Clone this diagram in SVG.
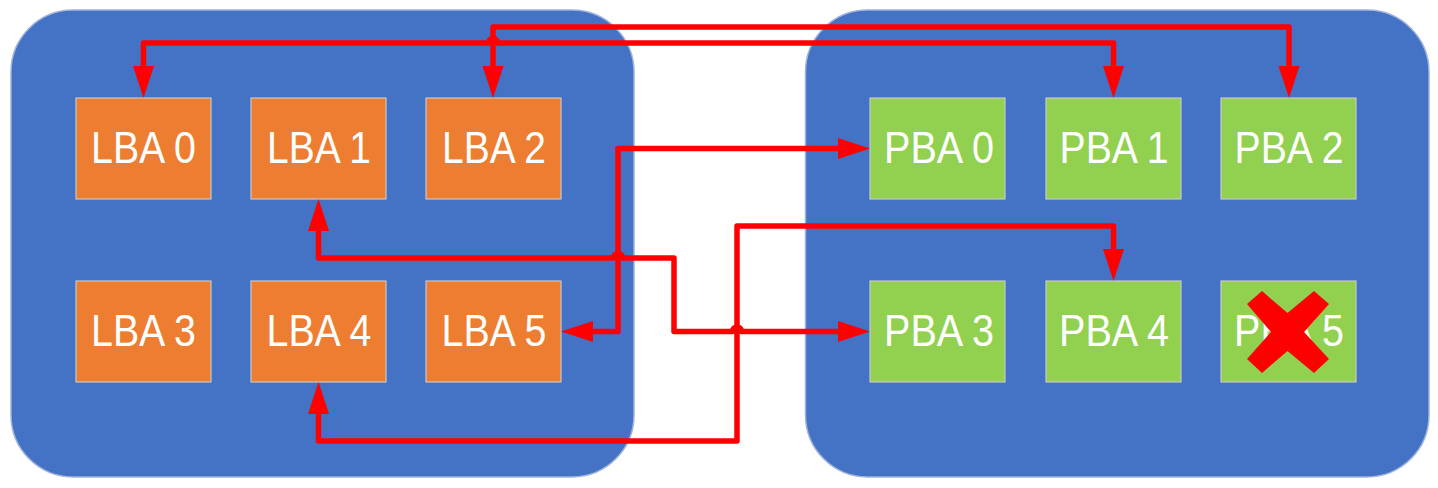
<svg xmlns="http://www.w3.org/2000/svg" width="1438" height="488" viewBox="0 0 1438 488">
  <style>
    .panel { fill: #4472C4; stroke: #9fb3dc; stroke-width: 1.5; }
    .lba { fill: #ED7D31; stroke: #c8c8c8; stroke-width: 1.2; }
    .pba { fill: #92D050; stroke: #c8c8c8; stroke-width: 1.2; }
    .lbl { fill: #ffffff; font-family: "Liberation Sans", Arial, sans-serif; font-size: 44px; text-anchor: middle; }
    .wire { fill: none; stroke: #FF0000; stroke-width: 5.5; stroke-linejoin: round; }
  </style>
  <defs>
    <marker id="ah" viewBox="0 0 32 21" refX="0" refY="10.5" markerWidth="32" markerHeight="21" markerUnits="userSpaceOnUse" orient="auto-start-reverse">
      <path d="M0,0 L32,10.5 L0,21 Z" fill="#FF0000"/>
    </marker>
  </defs>
  <rect width="1438" height="488" fill="#ffffff"/>
  <g id="panel-logical"><rect class="panel" x="11" y="10" width="623" height="467" rx="62" ry="62"/></g>
  <g id="panel-physical"><rect class="panel" x="805.5" y="10" width="623.5" height="467" rx="62" ry="62"/></g>

  <g id="lba0"><rect class="lba" x="76" y="98" width="135" height="101"/><text class="lbl" x="143.5" y="163" textLength="105" lengthAdjust="spacingAndGlyphs">LBA 0</text></g>
  <g id="lba1"><rect class="lba" x="251" y="98" width="135" height="101"/><text class="lbl" x="319" y="163" textLength="104" lengthAdjust="spacingAndGlyphs">LBA 1</text></g>
  <g id="lba2"><rect class="lba" x="426" y="98" width="135" height="101"/><text class="lbl" x="494" y="163" textLength="104" lengthAdjust="spacingAndGlyphs">LBA 2</text></g>
  <g id="lba3"><rect class="lba" x="76" y="281" width="135" height="101"/><text class="lbl" x="143.5" y="346" textLength="105" lengthAdjust="spacingAndGlyphs">LBA 3</text></g>
  <g id="lba4"><rect class="lba" x="251" y="281" width="135" height="101"/><text class="lbl" x="319" y="346" textLength="105" lengthAdjust="spacingAndGlyphs">LBA 4</text></g>
  <g id="lba5"><rect class="lba" x="426" y="281" width="135" height="101"/><text class="lbl" x="494" y="346" textLength="105" lengthAdjust="spacingAndGlyphs">LBA 5</text></g>

  <g id="pba0"><rect class="pba" x="870" y="98" width="135" height="101"/><text class="lbl" x="939" y="163" textLength="110" lengthAdjust="spacingAndGlyphs">PBA 0</text></g>
  <g id="pba1"><rect class="pba" x="1046" y="98" width="135" height="101"/><text class="lbl" x="1114" y="163" textLength="109" lengthAdjust="spacingAndGlyphs">PBA 1</text></g>
  <g id="pba2"><rect class="pba" x="1221" y="98" width="135" height="101"/><text class="lbl" x="1289" y="163" textLength="109" lengthAdjust="spacingAndGlyphs">PBA 2</text></g>
  <g id="pba3"><rect class="pba" x="870" y="281" width="135" height="101"/><text class="lbl" x="939" y="346" textLength="110" lengthAdjust="spacingAndGlyphs">PBA 3</text></g>
  <g id="pba4"><rect class="pba" x="1046" y="281" width="135" height="101"/><text class="lbl" x="1114" y="346" textLength="110" lengthAdjust="spacingAndGlyphs">PBA 4</text></g>
  <g id="pba5"><rect class="pba" x="1221" y="281" width="135" height="101"/><text class="lbl" x="1289" y="346" textLength="110" lengthAdjust="spacingAndGlyphs">PBA 5</text>
    <polygon points="1262,291 1287.5,313 1314,291 1329,304 1304,332 1329,359 1314,373 1287.5,351 1262,373 1247,359 1271,332 1247,304" fill="#FF0000"/>
  </g>

  <g id="connectors">
    <path class="wire" d="M493,66 V27 H1289 V66" marker-start="url(#ah)" marker-end="url(#ah)"/>
    <path class="wire" d="M143.5,66 V43 H488.5 A4.5,4.5 0 0 1 497.5,43 H1113.5 V66" marker-start="url(#ah)" marker-end="url(#ah)"/>
    <path class="wire" d="M593,331.5 H618 V148.5 H838" marker-start="url(#ah)" marker-end="url(#ah)"/>
    <path class="wire" d="M318.5,231 V258 H613.5 A4.5,4.5 0 0 1 622.5,258 H674 V331.5 H732.5 A4.5,4.5 0 0 1 741.5,331.5 H838" marker-start="url(#ah)" marker-end="url(#ah)"/>
    <path class="wire" d="M318.5,414 V441 H737 V226 H1113.5 V249" marker-start="url(#ah)" marker-end="url(#ah)"/>
  </g>
</svg>
